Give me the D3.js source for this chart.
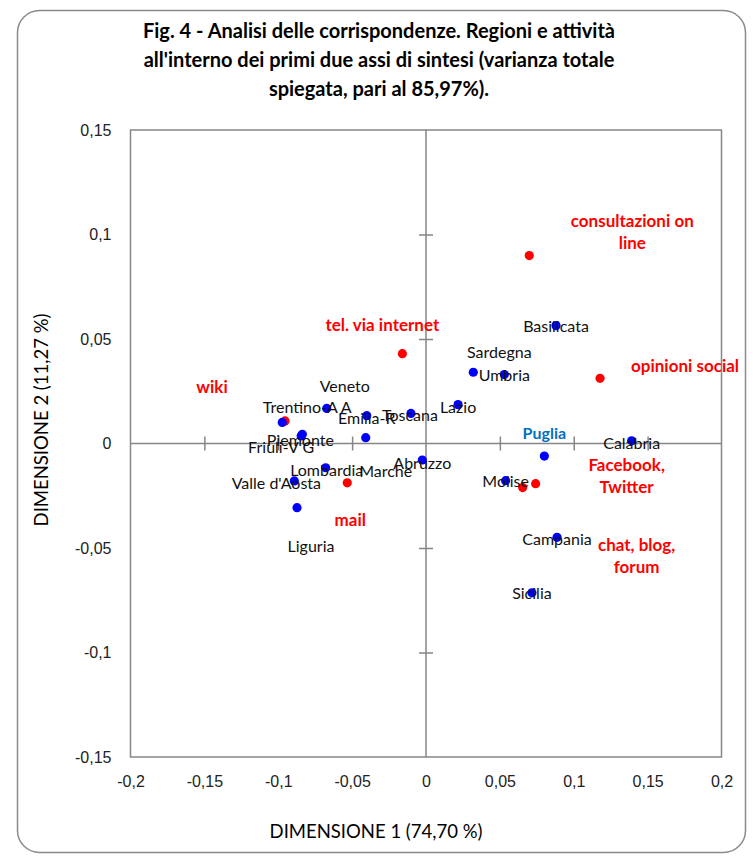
<!DOCTYPE html>
<html lang="it">
<head>
<meta charset="utf-8">
<title>Analisi delle corrispondenze</title>
<script src="https://d3js.org/d3.v7.min.js"></script>
<style>
body { margin: 0; background: #fff; }
svg { font-family: Lato, "Open Sans", sans-serif; }
.title { font-weight: bold; font-size: 20px; fill: #000; }
.tick text { font-size: 16px; fill: #222; }
.axis-title { font-size: 18.5px; fill: #000; }
.lbl { font-size: 16px; fill: #111; }
.act-lbl { font-size: 17px; font-weight: bold; fill: #ff0000; }
</style>
</head>
<body>
<div id="chart"></div>
<script>
// regioni (punti blu)
var regioni = ["Basilicata","Sardegna","Umbria","Lazio","Toscana","Emilia-R","Veneto","Trentino-A A",
  "Piemonte","Friuli-V G","Marche","Abruzzo","Lombardia","Valle d'Aosta","Liguria","Puglia",
  "Molise","Calabria","Campania","Sicilia"];
var regioniDim1 = [0.088, 0.032, 0.053, 0.0217, -0.0102, -0.0401, -0.0672, -0.0973,
  -0.0837, -0.0845, -0.0408, -0.0025, -0.0679, -0.0891, -0.0873, 0.0801,
  0.0539, 0.1392, 0.0887, 0.0717];
var regioniDim2 = [0.0564, 0.0341, 0.033, 0.0186, 0.0144, 0.0133, 0.0168, 0.0101,
  0.0044, 0.0036, 0.0028, -0.0079, -0.0116, -0.0179, -0.0307, -0.006,
  -0.0178, 0.0013, -0.0449, -0.0714];

// attività (punti rossi)
var attivita = ["consultazioni on line","tel. via internet","opinioni social","wiki","mail",
  "Facebook, Twitter","chat, blog, forum"];
var attivitaDim1 = [0.0699, -0.016, 0.1178, -0.0954, -0.0533, 0.0742, 0.0654];
var attivitaDim2 = [0.0899, 0.043, 0.0312, 0.0108, -0.0188, -0.0192, -0.0211];

var xTicks = [-0.2, -0.15, -0.1, -0.05, 0, 0.05, 0.1, 0.15, 0.2];
var yTicks = [-0.15, -0.1, -0.05, 0, 0.05, 0.1, 0.15];

var titleLines = ["Fig. 4 - Analisi delle corrispondenze. Regioni e attività",
  "all'interno dei primi due assi di sintesi (varianza totale",
  "spiegata, pari al 85,97%)."];

// spostamenti delle etichette (px) rispetto al punto
var regLabelOff = {
  "Sardegna":[26,-20], "Veneto":[18,-22], "Trentino-A A":[25,-15], "Piemonte":[-2,6],
  "Friuli-V G":[-20,11], "Marche":[20,33], "Valle d'Aosta":[-18,2], "Liguria":[14,38],
  "Abruzzo":[0,3], "Lazio":[0,2], "Emilia-R":[0,2], "Toscana":[-1,2], "Calabria":[0,2],
  "Campania":[0,2], "Lombardia":[1,2]
};
var actLabel = {
  "consultazioni on line": {lines:["consultazioni on","line"], off:[103,-35]},
  "tel. via internet": {lines:["tel. via internet"], off:[-20,-29]},
  "opinioni social": {lines:["opinioni social"], off:[85,-12]},
  "wiki": {lines:["wiki"], off:[-73,-34]},
  "mail": {lines:["mail"], off:[3,37]},
  "Facebook, Twitter": {lines:["Facebook,","Twitter"], off:[91,-19]},
  "chat, blog, forum": {lines:["chat, blog,","forum"], off:[114,57]}
};

var W = 753, H = 857;
var svg = d3.select("#chart").append("svg").attr("width", W).attr("height", H);

// cornice
svg.append("rect").attr("x", 17.5).attr("y", 10.5).attr("width", 728).attr("height", 842)
  .attr("rx", 22).attr("fill", "none").attr("stroke", "#8a8a8a").attr("stroke-width", 1.5);

// titolo
svg.selectAll(".title").data(titleLines).enter().append("text")
  .attr("class", "title").attr("text-anchor", "middle")
  .attr("x", 379).attr("y", function(d, i) { return 38 + i * 29; })
  .text(function(d) { return d; });

var x = d3.scaleLinear().domain([-0.2, 0.2]).range([130.5, 721.5]);
var y = d3.scaleLinear().domain([-0.15, 0.15]).range([757, 130]);
var fmt = function(v) { return String(+v.toFixed(2)).replace(".", ","); };

// riquadro area del grafico
svg.append("rect").attr("x", x(-0.2)).attr("y", y(0.15))
  .attr("width", x(0.2) - x(-0.2)).attr("height", y(-0.15) - y(0.15))
  .attr("fill", "none").attr("stroke", "#868686").attr("stroke-width", 1.5);

// etichette tick (in basso e a sinistra)
var xLab = svg.append("g").attr("transform", "translate(0," + (y(-0.15) + 16) + ")")
  .call(d3.axisBottom(x).tickValues(xTicks).tickSize(0).tickFormat(fmt));
xLab.select(".domain").remove();
xLab.selectAll("text").attr("font-family", null).attr("font-size", null);

var yLab = svg.append("g").attr("transform", "translate(" + (x(-0.2) - 16) + ",0)")
  .call(d3.axisLeft(y).tickValues(yTicks).tickSize(0).tickFormat(fmt));
yLab.select(".domain").remove();
yLab.selectAll("text").attr("font-family", null).attr("font-size", null);

// assi sullo zero con tacche a croce
var xZero = svg.append("g").attr("transform", "translate(0," + y(0) + ")")
  .call(d3.axisBottom(x).tickValues(xTicks.filter(function(v){ return Math.abs(v) < 0.2 && v !== 0; }))
    .tickSizeInner(7).tickSizeOuter(0).tickFormat(""));
xZero.selectAll("line").attr("y1", -7);
var yZero = svg.append("g").attr("transform", "translate(" + x(0) + ",0)")
  .call(d3.axisLeft(y).tickValues(yTicks.filter(function(v){ return Math.abs(v) < 0.15 && v !== 0; }))
    .tickSizeInner(7).tickSizeOuter(0).tickFormat(""));
yZero.selectAll("line").attr("x1", 7);
svg.selectAll(".domain, .tick line").attr("stroke", "#868686").attr("stroke-width", 1.5);
xZero.select(".domain").attr("d", "M" + x(-0.2) + ",0H" + x(0.2));
yZero.select(".domain").attr("d", "M0," + y(0.15) + "V" + y(-0.15));

// titoli assi
svg.append("text").attr("class", "axis-title").attr("text-anchor", "middle")
  .attr("x", 376).attr("y", 838).text("DIMENSIONE 1 (74,70 %)");
svg.append("text").attr("class", "axis-title").attr("text-anchor", "middle")
  .attr("transform", "translate(48,420) rotate(-90)").text("DIMENSIONE 2  (11,27 %)");

// punti
var reg = regioni.map(function(n, i) { return {name: n, d1: regioniDim1[i], d2: regioniDim2[i]}; });
var act = attivita.map(function(n, i) { return {name: n, d1: attivitaDim1[i], d2: attivitaDim2[i]}; });

svg.selectAll(".pt-act").data(act).enter().append("circle")
  .attr("class", "pt-act").attr("r", 4.6).attr("fill", "#ff0000")
  .attr("cx", function(d) { return x(d.d1); }).attr("cy", function(d) { return y(d.d2); });
svg.selectAll(".pt-reg").data(reg).enter().append("circle")
  .attr("class", "pt-reg").attr("r", 4.6).attr("fill", "#0000ff")
  .attr("cx", function(d) { return x(d.d1); }).attr("cy", function(d) { return y(d.d2); });

// etichette regioni
svg.selectAll(".lbl").data(reg.filter(function(d) { return d.name !== "Puglia"; })).enter().append("text")
  .attr("class", "lbl").attr("text-anchor", "middle")
  .attr("x", function(d) { return x(d.d1) + (regLabelOff[d.name] || [0,0])[0]; })
  .attr("y", function(d) { return y(d.d2) + (regLabelOff[d.name] || [0,0])[1] + 6; })
  .text(function(d) { return d.name; });

var pug = reg.filter(function(d) { return d.name === "Puglia"; })[0];
svg.append("text").attr("text-anchor", "middle")
  .attr("x", x(pug.d1)).attr("y", y(pug.d2) - 17)
  .attr("font-size", 16).attr("font-weight", "bold").attr("fill", "#0070c0").text("Puglia");

// etichette attività
act.forEach(function(d) {
  var cfg = actLabel[d.name];
  cfg.lines.forEach(function(line, j) {
    svg.append("text").attr("class", "act-lbl").attr("text-anchor", "middle")
      .attr("x", x(d.d1) + cfg.off[0])
      .attr("y", y(d.d2) + cfg.off[1] + j * 22 + 6)
      .text(line);
  });
});
</script>
</body>
</html>
